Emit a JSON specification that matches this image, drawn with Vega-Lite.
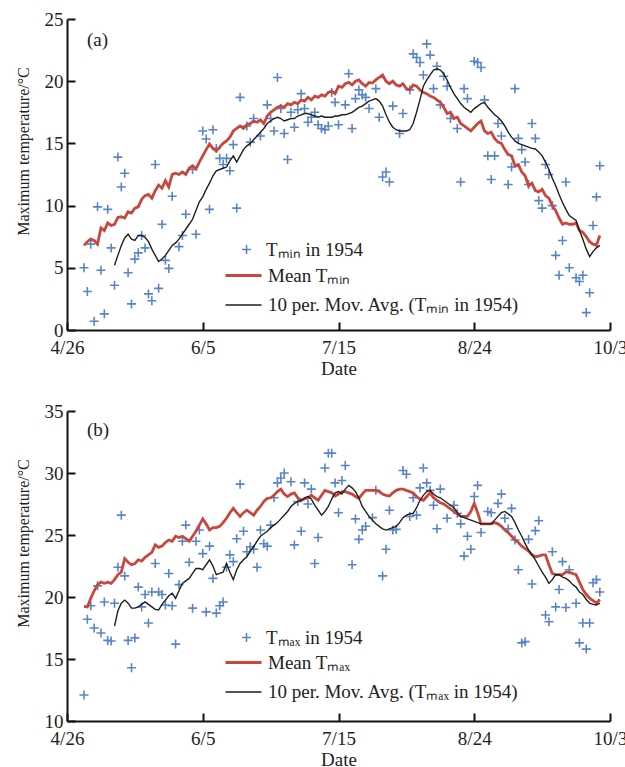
{
  "$schema": "https://vega.github.io/schema/vega-lite/v6.json",
  "padding": {"top": 10, "left": 15, "right": 5, "bottom": 5},
  "spacing": 24,
  "config": {
    "font": "Liberation Serif",
    "view": {"stroke": null},
    "axis": {"grid": false, "domainColor": "#111", "domainWidth": 2, "tickColor": "#111", "tickWidth": 2, "tickSize": -8, "labelFont": "Liberation Serif", "labelFontSize": 19, "labelColor": "#222", "titleFont": "Liberation Serif", "titleFontSize": 19, "titleFontWeight": "normal", "titleColor": "#222", "labelFlush": false, "labelOverlap": false},
    "legend": {"labelFont": "Liberation Serif", "labelFontSize": 19, "labelColor": "#222", "labelLimit": 500},
    "title": {"font": "Liberation Serif", "fontSize": 19, "fontWeight": "normal", "color": "#222"}
  },
  "resolve": {"scale": {"color": "independent", "shape": "independent", "strokeWidth": "independent"}, "legend": {"color": "independent", "shape": "independent", "strokeWidth": "independent"}},
  "datasets": {
    "t": [
      {"date":"1954-05-01","tmin":5.0,"tmean":6.8,"xmax":12.1,"xmean":19.25},
      {"date":"1954-05-02","tmin":3.1,"tmean":7.1,"xmax":18.2,"xmean":19.2},
      {"date":"1954-05-03","tmin":6.9,"tmean":7.3,"xmax":19.3,"xmean":19.9},
      {"date":"1954-05-04","tmin":0.7,"tmean":7.2,"xmax":17.5,"xmean":20.5},
      {"date":"1954-05-05","tmin":9.9,"tmean":6.9,"xmax":20.9,"xmean":21.0},
      {"date":"1954-05-06","tmin":4.8,"tmean":8.2,"xmax":17.1,"xmean":21.2},
      {"date":"1954-05-07","tmin":1.3,"tmean":8.0,"xmax":19.6,"xmean":21.1},
      {"date":"1954-05-08","tmin":9.7,"tmean":8.6,"xmax":16.5,"xmean":21.2},
      {"date":"1954-05-09","tmin":6.6,"tmean":8.4,"xmax":16.45,"xmean":21.1},
      {"date":"1954-05-10","tmin":3.6,"tmean":8.5,"tavg":5.2,"xmax":19.5,"xmean":21.4,"xavg":17.65},
      {"date":"1954-05-11","tmin":13.9,"tmean":9.05,"tavg":6.0,"xmax":22.4,"xmean":21.8,"xavg":18.9},
      {"date":"1954-05-12","tmin":11.5,"tmean":9.1,"tavg":6.8,"xmax":26.6,"xmean":22.0,"xavg":19.5},
      {"date":"1954-05-13","tmin":12.6,"tmean":9.0,"tavg":7.4,"xmax":21.7,"xmean":23.1,"xavg":19.75},
      {"date":"1954-05-14","tmin":4.6,"tmean":9.5,"tavg":7.7,"xmax":16.5,"xmean":22.8,"xavg":19.5},
      {"date":"1954-05-15","tmin":2.1,"tmean":9.4,"tavg":7.3,"xmax":14.3,"xmean":22.6,"xavg":19.1},
      {"date":"1954-05-16","tmin":5.7,"tmean":9.8,"tavg":7.2,"xmax":16.7,"xmean":22.7,"xavg":19.1},
      {"date":"1954-05-17","tmin":6.2,"tmean":9.9,"tavg":7.6,"xmax":20.8,"xmean":23.0,"xavg":19.2},
      {"date":"1954-05-18","tmin":7.6,"tmean":10.5,"tavg":7.6,"xmax":19.2,"xmean":22.9,"xavg":19.4},
      {"date":"1954-05-19","tmin":6.6,"tmean":10.8,"tavg":7.45,"xmax":20.2,"xmean":23.2,"xavg":19.6},
      {"date":"1954-05-20","tmin":2.9,"tmean":10.9,"tavg":7.1,"xmax":17.9,"xmean":23.4,"xavg":19.4},
      {"date":"1954-05-21","tmin":2.35,"tmean":10.6,"tavg":6.5,"xmax":20.4,"xmean":23.6,"xavg":19.2},
      {"date":"1954-05-22","tmin":13.3,"tmean":11.2,"tavg":6.0,"xmax":22.7,"xmean":24.2,"xavg":19.0},
      {"date":"1954-05-23","tmin":3.35,"tmean":11.65,"tavg":5.5,"xmax":20.4,"xmean":24.0,"xavg":18.95},
      {"date":"1954-05-24","tmin":8.5,"tmean":11.4,"tavg":5.7,"xmax":20.2,"xmean":24.1,"xavg":19.4},
      {"date":"1954-05-25","tmin":5.6,"tmean":12.0,"tavg":6.0,"xmax":19.35,"xmean":24.4,"xavg":19.75},
      {"date":"1954-05-26","tmin":4.95,"tmean":11.5,"tavg":6.4,"xmax":21.9,"xmean":24.6,"xavg":20.1},
      {"date":"1954-05-27","tmin":10.75,"tmean":12.5,"tavg":6.8,"xmax":19.3,"xmean":24.5,"xavg":20.3},
      {"date":"1954-05-28","tmean":12.6,"tavg":7.0,"xmax":16.2,"xmean":24.9,"xavg":19.9},
      {"date":"1954-05-29","tmin":6.7,"tmean":12.5,"tavg":7.3,"xmax":21.0,"xmean":24.8,"xavg":20.5},
      {"date":"1954-05-30","tmin":7.6,"tmean":12.7,"tavg":7.7,"xmax":24.5,"xmean":24.9,"xavg":21.1},
      {"date":"1954-05-31","tmin":9.3,"tmean":12.5,"tavg":8.1,"xmax":25.8,"xmean":24.7,"xavg":21.3},
      {"date":"1954-06-01","tmean":13.0,"tavg":8.5,"xmax":22.8,"xmean":24.5,"xavg":21.5},
      {"date":"1954-06-02","tmin":12.9,"tmean":13.2,"tavg":8.9,"xmax":19.1,"xmean":24.9,"xavg":21.9},
      {"date":"1954-06-03","tmin":7.7,"tmean":12.95,"tavg":9.6,"xmax":24.5,"xmean":25.3,"xavg":22.3},
      {"date":"1954-06-04","tmean":13.5,"tavg":10.3,"xmax":25.4,"xmean":25.8,"xavg":22.3},
      {"date":"1954-06-05","tmin":16.0,"tmean":14.0,"tavg":10.7,"xmax":23.5,"xmean":26.3,"xavg":22.2},
      {"date":"1954-06-06","tmin":15.35,"tmean":14.5,"tavg":11.3,"xmax":18.8,"xmean":25.9,"xavg":22.6},
      {"date":"1954-06-07","tmin":9.7,"tmean":14.95,"tavg":11.8,"xmax":24.1,"xmean":25.4,"xavg":23.0},
      {"date":"1954-06-08","tmin":16.1,"tmean":14.6,"tavg":12.4,"xmax":21.5,"xmean":25.6,"xavg":22.5},
      {"date":"1954-06-09","tmin":14.6,"tmean":14.4,"tavg":12.8,"xmax":18.7,"xmean":25.6,"xavg":21.8},
      {"date":"1954-06-10","tmin":13.8,"tmean":14.7,"tavg":12.9,"xmax":19.3,"xmean":25.7,"xavg":21.9},
      {"date":"1954-06-11","tmin":13.3,"tmean":15.0,"tavg":13.0,"xmax":19.6,"xmean":26.0,"xavg":22.0},
      {"date":"1954-06-12","tmin":13.8,"tmean":15.2,"tavg":13.1,"xmax":22.4,"xmean":26.35,"xavg":22.7},
      {"date":"1954-06-13","tmin":12.8,"tmean":15.5,"tavg":13.6,"xmax":23.4,"xmean":26.8,"xavg":22.0},
      {"date":"1954-06-14","tmin":14.9,"tmean":16.0,"tavg":14.0,"xmax":22.85,"xmean":27.15,"xavg":21.4},
      {"date":"1954-06-15","tmin":9.8,"tmean":16.2,"tavg":13.5,"xmax":24.7,"xmean":26.8,"xavg":22.2},
      {"date":"1954-06-16","tmin":18.7,"tmean":16.4,"tavg":14.0,"xmax":29.1,"xmean":26.5,"xavg":22.7},
      {"date":"1954-06-17","tmean":16.2,"tavg":14.5,"xmax":25.3,"xmean":26.8,"xavg":23.0},
      {"date":"1954-06-18","tmin":16.4,"tmean":16.5,"tavg":14.8,"xmax":23.65,"xmean":27.0,"xavg":23.25},
      {"date":"1954-06-19","tmin":15.1,"tmean":16.6,"tavg":15.0,"xmax":24.05,"xmean":26.8,"xavg":23.7},
      {"date":"1954-06-20","tmin":17.0,"tmean":16.8,"tavg":15.3,"xmax":23.85,"xmean":26.6,"xavg":24.05},
      {"date":"1954-06-21","tmean":16.7,"tavg":15.6,"xmax":22.4,"xmean":27.0,"xavg":24.5},
      {"date":"1954-06-22","tmin":15.6,"tmean":16.9,"tavg":15.9,"xmax":25.4,"xmean":27.3,"xavg":24.9},
      {"date":"1954-06-23","tmean":16.6,"tavg":16.2,"xmax":24.3,"xmean":27.7,"xavg":25.1},
      {"date":"1954-06-24","tmin":18.1,"tmean":17.2,"tavg":16.6,"xmax":24.1,"xmean":27.95,"xavg":25.3},
      {"date":"1954-06-25","tmin":17.0,"tmean":17.5,"tavg":16.8,"xmax":25.8,"xmean":28.0,"xavg":25.6},
      {"date":"1954-06-26","tmin":16.0,"tmean":17.7,"tavg":17.0,"xmax":28.0,"xmean":28.2,"xavg":25.8},
      {"date":"1954-06-27","tmin":20.3,"tmean":17.9,"tavg":17.1,"xmax":29.2,"xmean":28.5,"xavg":26.0},
      {"date":"1954-06-28","tmin":17.8,"tmean":18.0,"tavg":17.0,"xmax":29.6,"xmean":28.7,"xavg":26.3},
      {"date":"1954-06-29","tmin":15.8,"tmean":17.9,"tavg":16.8,"xmax":30.0,"xmean":28.3,"xavg":26.6},
      {"date":"1954-06-30","tmin":13.7,"tmean":18.2,"tavg":16.9,"xmean":28.1,"xavg":26.9},
      {"date":"1954-07-01","tmin":17.5,"tmean":18.1,"tavg":17.0,"xmax":29.3,"xmean":28.3,"xavg":27.3},
      {"date":"1954-07-02","tmin":16.3,"tmean":18.3,"tavg":17.0,"xmax":24.2,"xmean":28.4,"xavg":27.55},
      {"date":"1954-07-03","tmin":17.7,"tmean":18.2,"tavg":17.2,"xmax":27.7,"xmean":28.0,"xavg":27.7},
      {"date":"1954-07-04","tmin":19.0,"tmean":18.5,"tavg":17.3,"xmax":25.3,"xmean":27.8,"xavg":27.8},
      {"date":"1954-07-05","tmin":17.8,"tmean":18.4,"tavg":17.4,"xmax":29.2,"xmean":27.9,"xavg":28.0},
      {"date":"1954-07-06","tmin":16.7,"tmean":18.7,"tavg":17.4,"xmax":27.5,"xmean":28.0,"xavg":28.1},
      {"date":"1954-07-07","tmin":17.1,"tmean":18.5,"tavg":17.3,"xmax":28.7,"xmean":28.2,"xavg":27.9},
      {"date":"1954-07-08","tmin":17.5,"tmean":18.8,"tavg":17.2,"xmax":22.7,"xmean":28.0,"xavg":27.4},
      {"date":"1954-07-09","tmin":16.5,"tmean":18.7,"tavg":17.1,"xmax":24.8,"xmean":27.8,"xavg":27.0},
      {"date":"1954-07-10","tmin":16.2,"tmean":18.9,"tavg":17.2,"xmean":28.2,"xavg":26.6},
      {"date":"1954-07-11","tmin":16.1,"tmean":18.8,"tavg":17.1,"xmax":30.4,"xmean":28.6,"xavg":26.9},
      {"date":"1954-07-12","tmin":16.4,"tmean":19.1,"tavg":17.1,"xmax":31.6,"xmean":28.5,"xavg":27.3},
      {"date":"1954-07-13","tmin":19.1,"tmean":19.2,"tavg":17.1,"xmax":31.6,"xmean":28.4,"xavg":27.9},
      {"date":"1954-07-14","tmin":18.3,"tmean":19.0,"tavg":17.2,"xmax":29.2,"xmean":28.15,"xavg":28.4},
      {"date":"1954-07-15","tmin":16.5,"tmean":19.6,"tavg":17.2,"xmax":26.8,"xmean":28.3,"xavg":28.5},
      {"date":"1954-07-16","tmean":19.5,"tavg":17.3,"xmax":29.4,"xmean":28.5,"xavg":28.3},
      {"date":"1954-07-17","tmin":18.1,"tmean":19.8,"tavg":17.3,"xmax":30.6,"xmean":28.5,"xavg":28.7},
      {"date":"1954-07-18","tmin":20.6,"tmean":19.9,"tavg":17.4,"xmean":28.4,"xavg":29.0},
      {"date":"1954-07-19","tmin":16.2,"tmean":19.7,"tavg":17.5,"xmax":22.6,"xmean":28.3,"xavg":28.8},
      {"date":"1954-07-20","tmin":18.6,"tmean":20.0,"tavg":17.7,"xmax":26.3,"xmean":28.1,"xavg":28.5},
      {"date":"1954-07-21","tmin":19.3,"tmean":20.1,"tavg":17.9,"xmax":24.65,"xmean":27.95,"xavg":28.0},
      {"date":"1954-07-22","tmin":18.9,"tmean":19.8,"tavg":18.0,"xmax":25.4,"xmean":28.3,"xavg":27.3},
      {"date":"1954-07-23","tmin":18.7,"tmean":19.6,"tavg":18.2,"xmax":25.7,"xmean":28.6,"xavg":26.9},
      {"date":"1954-07-24","tmin":17.8,"tmean":19.9,"tavg":18.4,"xmean":28.6,"xavg":26.5},
      {"date":"1954-07-25","tmean":19.85,"tavg":18.5,"xmax":26.4,"xmean":28.6,"xavg":26.2},
      {"date":"1954-07-26","tmin":19.4,"tmean":20.1,"tavg":18.6,"xmax":28.6,"xmean":28.6,"xavg":25.9},
      {"date":"1954-07-27","tmin":17.1,"tmean":20.3,"tavg":18.4,"xmean":28.5,"xavg":25.7},
      {"date":"1954-07-28","tmin":12.3,"tmean":20.5,"tavg":18.0,"xmax":21.7,"xmean":28.3,"xavg":25.5},
      {"date":"1954-07-29","tmin":12.7,"tmean":20.0,"tavg":17.3,"xmax":23.85,"xmean":28.2,"xavg":25.4},
      {"date":"1954-07-30","tmin":11.9,"tmean":19.8,"tavg":16.7,"xmax":27.0,"xmean":28.15,"xavg":25.5},
      {"date":"1954-07-31","tmin":18.0,"tmean":20.0,"tavg":16.3,"xmax":25.4,"xmean":28.4,"xavg":25.6},
      {"date":"1954-08-01","tmean":19.7,"tavg":16.1,"xmax":25.45,"xmean":28.6,"xavg":25.7},
      {"date":"1954-08-02","tmin":15.8,"tmean":19.6,"tavg":16.0,"xmean":28.7,"xavg":26.0},
      {"date":"1954-08-03","tmin":17.4,"tmean":19.8,"tavg":16.0,"xmax":30.2,"xmean":28.7,"xavg":26.4},
      {"date":"1954-08-04","tmean":19.4,"tavg":16.0,"xmax":29.9,"xmean":28.6,"xavg":26.6},
      {"date":"1954-08-05","tmin":19.3,"tmean":19.3,"tavg":16.1,"xmax":26.5,"xmean":28.5,"xavg":26.7},
      {"date":"1954-08-06","tmin":22.2,"tmean":19.7,"tavg":16.6,"xmax":28.0,"xmean":28.4,"xavg":26.75},
      {"date":"1954-08-07","tmin":21.9,"tmean":19.6,"tavg":17.5,"xmax":26.6,"xmean":28.1,"xavg":27.2},
      {"date":"1954-08-08","tmin":21.5,"tmean":19.3,"tavg":18.5,"xmax":28.8,"xmean":27.9,"xavg":27.8},
      {"date":"1954-08-09","tmin":20.5,"tmean":19.1,"tavg":19.6,"xmax":30.4,"xmean":27.8,"xavg":28.2},
      {"date":"1954-08-10","tmin":23.0,"tmean":19.0,"tavg":20.1,"xmax":29.2,"xmean":28.1,"xavg":28.5},
      {"date":"1954-08-11","tmin":22.1,"tmean":18.8,"tavg":20.5,"xmax":28.6,"xmean":28.4,"xavg":28.6},
      {"date":"1954-08-12","tmin":19.4,"tmean":18.7,"tavg":20.9,"xmax":27.4,"xmean":28.0,"xavg":28.3},
      {"date":"1954-08-13","tmin":21.2,"tmean":18.5,"tavg":21.0,"xmax":25.5,"xmean":27.8,"xavg":28.1},
      {"date":"1954-08-14","tmin":18.1,"tmean":18.3,"tavg":20.9,"xmax":28.7,"xmean":27.6,"xavg":28.0},
      {"date":"1954-08-15","tmin":20.4,"tmean":17.9,"tavg":20.6,"xmean":27.5,"xavg":27.8},
      {"date":"1954-08-16","tmin":19.6,"tmean":17.4,"tavg":20.1,"xmax":26.35,"xmean":27.3,"xavg":27.6},
      {"date":"1954-08-17","tmin":17.0,"tmean":17.5,"tavg":19.5,"xmean":27.1,"xavg":27.4},
      {"date":"1954-08-18","tmean":17.0,"tavg":19.0,"xmax":27.4,"xmean":26.9,"xavg":27.2},
      {"date":"1954-08-19","tmin":16.2,"tmean":17.1,"tavg":18.6,"xmax":26.75,"xmean":26.7,"xavg":26.8},
      {"date":"1954-08-20","tmin":11.9,"tmean":16.6,"tavg":18.2,"xmax":25.9,"xmean":26.5,"xavg":26.5},
      {"date":"1954-08-21","tmin":19.4,"tmean":16.4,"tavg":17.9,"xmax":23.3,"xmean":26.5,"xavg":26.4},
      {"date":"1954-08-22","tmin":18.6,"tmean":16.2,"tavg":17.7,"xmax":24.9,"xmean":26.5,"xavg":26.3},
      {"date":"1954-08-23","tmean":16.0,"tavg":17.5,"xmax":23.85,"xmean":26.9,"xavg":26.2},
      {"date":"1954-08-24","tmin":21.6,"tmean":16.3,"tavg":17.8,"xmax":28.1,"xmean":27.55,"xavg":26.1},
      {"date":"1954-08-25","tmin":21.5,"tmean":16.6,"tavg":18.0,"xmax":29.0,"xmean":26.8,"xavg":26.0},
      {"date":"1954-08-26","tmin":21.1,"tmean":16.8,"tavg":18.2,"xmax":25.2,"xmean":25.9,"xavg":25.9},
      {"date":"1954-08-27","tmin":18.5,"tmean":16.0,"tavg":18.3,"xmean":25.9,"xavg":25.9},
      {"date":"1954-08-28","tmin":14.0,"tmean":15.8,"tavg":17.9,"xmax":26.9,"xmean":25.9,"xavg":25.9},
      {"date":"1954-08-29","tmin":12.1,"tmean":15.9,"tavg":17.6,"xmax":26.8,"xmean":25.9,"xavg":25.9},
      {"date":"1954-08-30","tmin":14.0,"tmean":15.4,"tavg":17.3,"xmean":26.0,"xavg":26.2},
      {"date":"1954-08-31","tmin":16.6,"tmean":15.1,"tavg":17.1,"xmax":27.55,"xmean":25.9,"xavg":26.5},
      {"date":"1954-09-01","tmin":15.6,"tmean":15.0,"tavg":16.8,"xmax":28.3,"xmean":25.7,"xavg":26.8},
      {"date":"1954-09-02","tmean":14.5,"tavg":16.4,"xmax":26.35,"xmean":25.4,"xavg":26.9},
      {"date":"1954-09-03","tmin":11.7,"tmean":14.1,"tavg":15.9,"xmax":25.5,"xmean":25.2,"xavg":26.7},
      {"date":"1954-09-04","tmin":13.1,"tmean":14.0,"tavg":15.5,"xmax":27.15,"xmean":24.9,"xavg":26.5},
      {"date":"1954-09-05","tmin":19.4,"tmean":13.2,"tavg":15.2,"xmax":24.6,"xmean":24.6,"xavg":26.0},
      {"date":"1954-09-06","tmin":15.4,"tmean":13.3,"tavg":15.0,"xmax":22.2,"xmean":24.4,"xavg":25.4},
      {"date":"1954-09-07","tmin":14.5,"tmean":12.7,"tavg":14.9,"xmax":16.3,"xmean":24.1,"xavg":24.9},
      {"date":"1954-09-08","tmin":13.5,"tmean":12.4,"tavg":14.8,"xmax":16.4,"xmean":23.9,"xavg":24.3},
      {"date":"1954-09-09","tmin":11.7,"tmean":11.6,"tavg":14.7,"xmax":24.65,"xmean":23.7,"xavg":23.8},
      {"date":"1954-09-10","tmin":16.6,"tmean":11.8,"tavg":14.6,"xmax":21.05,"xmean":23.4,"xavg":23.4},
      {"date":"1954-09-11","tmin":15.4,"tmean":11.2,"tavg":14.55,"xmax":25.35,"xmean":23.25,"xavg":23.0},
      {"date":"1954-09-12","tmin":10.4,"tmean":11.1,"tavg":14.3,"xmax":26.15,"xmean":23.3,"xavg":22.5},
      {"date":"1954-09-13","tmin":9.8,"tmean":11.3,"tavg":14.0,"xmean":23.4,"xavg":22.0},
      {"date":"1954-09-14","tmin":13.3,"tmean":10.8,"tavg":13.5,"xmax":18.55,"xmean":23.4,"xavg":21.6},
      {"date":"1954-09-15","tmin":12.5,"tmean":10.6,"tavg":12.9,"xmax":18.0,"xmean":22.6,"xavg":21.1},
      {"date":"1954-09-16","tmin":10.0,"tmean":10.0,"tavg":12.2,"xmax":23.65,"xmean":21.9,"xavg":21.4},
      {"date":"1954-09-17","tmin":6.0,"tmean":9.6,"tavg":11.6,"xmax":19.2,"xmean":21.8,"xavg":21.8},
      {"date":"1954-09-18","tmin":4.4,"tmean":9.0,"tavg":10.9,"xmax":20.6,"xmean":21.8,"xavg":21.8},
      {"date":"1954-09-19","tmin":7.2,"tmean":8.5,"tavg":10.25,"xmax":22.85,"xmean":21.8,"xavg":21.6},
      {"date":"1954-09-20","tmin":11.9,"tmean":8.6,"tavg":9.7,"xmax":19.15,"xmean":22.0,"xavg":21.5},
      {"date":"1954-09-21","tmin":5.0,"tmean":8.5,"tavg":9.2,"xmax":22.2,"xmean":22.0,"xavg":21.3},
      {"date":"1954-09-22","tmean":8.5,"tavg":9.0,"xmean":21.9,"xavg":21.0},
      {"date":"1954-09-23","tmin":4.2,"tmean":8.6,"tavg":8.8,"xmax":19.5,"xmean":21.8,"xavg":20.8},
      {"date":"1954-09-24","tmin":3.9,"tmean":8.0,"tavg":8.0,"xmax":16.3,"xmean":21.2,"xavg":20.4},
      {"date":"1954-09-25","tmin":4.4,"tmean":7.85,"tavg":7.3,"xmax":17.9,"xmean":20.6,"xavg":20.2},
      {"date":"1954-09-26","tmin":1.4,"tmean":7.5,"tavg":6.5,"xmax":15.8,"xmean":20.2,"xavg":19.8},
      {"date":"1954-09-27","tmin":3.0,"tmean":7.1,"tavg":5.9,"xmax":17.9,"xmean":19.9,"xavg":19.5},
      {"date":"1954-09-28","tmin":8.4,"tmean":6.9,"tavg":6.3,"xmax":21.15,"xmean":19.7,"xavg":19.4},
      {"date":"1954-09-29","tmin":10.7,"tmean":6.8,"tavg":6.6,"xmax":21.4,"xmean":19.5,"xavg":19.35},
      {"date":"1954-09-30","tmin":13.2,"tmean":7.6,"tavg":6.8,"xmax":20.4,"xmean":19.8,"xavg":19.5}
    ]
  },
  "vconcat": [
    {
      "width": 543,
      "height": 311,
      "title": {"text": "(a)", "anchor": "start", "frame": "group", "orient": "top", "offset": -40, "dx": 20},
      "data": {"name": "t"},
      "encoding": {
        "x": {"field": "date", "type": "temporal",
          "scale": {"type": "utc", "domain": [{"year": 1954, "month": 4, "date": 26, "utc": true}, {"year": 1954, "month": 10, "date": 3, "utc": true}]},
          "axis": {"title": "Date", "labelExpr": "utcFormat(datum.value, '%-m/%-d')", "labelPadding": 16, "titlePadding": 2,
            "values": [{"year": 1954, "month": 4, "date": 26, "utc": true}, {"year": 1954, "month": 6, "date": 5, "utc": true}, {"year": 1954, "month": 7, "date": 15, "utc": true}, {"year": 1954, "month": 8, "date": 24, "utc": true}, {"year": 1954, "month": 10, "date": 3, "utc": true}]}},
        "y": {"field": "value", "type": "quantitative", "scale": {"domain": [0, 25]},
          "axis": {"title": "Maximum temperature/°C", "titleFontSize": 16, "titleY": 132, "values": [0, 5, 10, 15, 20, 25], "labelPadding": 12, "titlePadding": 13}}
      },
      "layer": [
        {
          "transform": [{"fold": ["tmin"], "as": ["series", "value"]}, {"filter": "isValid(datum.value)"}],
          "mark": {"type": "point", "shape": "M-1,0L1,0M0,-1L0,1", "filled": false, "size": 81, "strokeWidth": 1.6, "opacity": 1, "color": "#5a84c8"},
          "encoding": {
            "shape": {"field": "series", "type": "nominal",
              "scale": {"domain": ["tmin"], "range": ["M-1,0L1,0M0,-1L0,1"]},
              "legend": {"title": null, "orient": "none", "legendX": 170, "legendY": 221, "labelOffset": 10, "symbolSize": 81, "symbolStrokeWidth": 1.6, "symbolStrokeColor": "#5a84c8", "symbolFillColor": "transparent",
                "labelExpr": "'Tₘᵢₙ in 1954'"}}
          }
        },
        {
          "transform": [{"fold": ["tmean", "tavg"], "as": ["series", "value"]}, {"filter": "isValid(datum.value)"}],
          "mark": {"type": "line"},
          "encoding": {
            "color": {"field": "series", "type": "nominal",
              "scale": {"domain": ["tmean", "tavg"], "range": ["#c8463c", "#1e1e1e"]},
              "legend": {"title": null, "orient": "none", "legendX": 157, "legendY": 237, "labelOffset": 5, "rowPadding": -4, "symbolType": "stroke", "symbolSize": 1296,
                "labelExpr": "datum.value === 'tmean' ? 'Mean Tₘᵢₙ' : '10 per. Mov. Avg. (Tₘᵢₙ in 1954)'"}},
            "strokeWidth": {"field": "series", "type": "nominal",
              "scale": {"domain": ["tmean", "tavg"], "range": [2.8, 1.4]},
              "legend": {"title": null, "orient": "none", "legendX": 157, "legendY": 237, "labelOffset": 5, "rowPadding": -4, "symbolType": "stroke", "symbolSize": 1296,
                "labelExpr": "datum.value === 'tmean' ? 'Mean Tₘᵢₙ' : '10 per. Mov. Avg. (Tₘᵢₙ in 1954)'"}}
          }
        }
      ]
    },
    {
      "width": 543,
      "height": 310,
      "title": {"text": "(b)", "anchor": "start", "frame": "group", "orient": "top", "offset": -38, "dx": 20},
      "data": {"name": "t"},
      "encoding": {
        "x": {"field": "date", "type": "temporal",
          "scale": {"type": "utc", "domain": [{"year": 1954, "month": 4, "date": 26, "utc": true}, {"year": 1954, "month": 10, "date": 3, "utc": true}]},
          "axis": {"title": "Date", "labelExpr": "utcFormat(datum.value, '%-m/%-d')", "labelPadding": 16, "titlePadding": 2,
            "values": [{"year": 1954, "month": 4, "date": 26, "utc": true}, {"year": 1954, "month": 6, "date": 5, "utc": true}, {"year": 1954, "month": 7, "date": 15, "utc": true}, {"year": 1954, "month": 8, "date": 24, "utc": true}, {"year": 1954, "month": 10, "date": 3, "utc": true}]}},
        "y": {"field": "value", "type": "quantitative", "scale": {"domain": [10, 35]},
          "axis": {"title": "Maximum temperature/°C", "titleFontSize": 16, "titleY": 132, "values": [10, 15, 20, 25, 30, 35], "labelPadding": 12, "titlePadding": 13}}
      },
      "layer": [
        {
          "transform": [{"fold": ["xmax"], "as": ["series", "value"]}, {"filter": "isValid(datum.value)"}],
          "mark": {"type": "point", "shape": "M-1,0L1,0M0,-1L0,1", "filled": false, "size": 81, "strokeWidth": 1.6, "opacity": 1, "color": "#5a84c8"},
          "encoding": {
            "shape": {"field": "series", "type": "nominal",
              "scale": {"domain": ["xmax"], "range": ["M-1,0L1,0M0,-1L0,1"]},
              "legend": {"title": null, "orient": "none", "legendX": 170, "legendY": 217, "labelOffset": 10, "symbolSize": 81, "symbolStrokeWidth": 1.6, "symbolStrokeColor": "#5a84c8", "symbolFillColor": "transparent",
                "labelExpr": "'Tₘₐₓ in 1954'"}}
          }
        },
        {
          "transform": [{"fold": ["xmean", "xavg"], "as": ["series", "value"]}, {"filter": "isValid(datum.value)"}],
          "mark": {"type": "line"},
          "encoding": {
            "color": {"field": "series", "type": "nominal",
              "scale": {"domain": ["xmean", "xavg"], "range": ["#c8463c", "#1e1e1e"]},
              "legend": {"title": null, "orient": "none", "legendX": 157, "legendY": 232, "labelOffset": 5, "rowPadding": -11, "symbolType": "stroke", "symbolSize": 1296,
                "labelExpr": "datum.value === 'xmean' ? 'Mean Tₘₐₓ' : '10 per. Mov. Avg. (Tₘₐₓ in 1954)'"}},
            "strokeWidth": {"field": "series", "type": "nominal",
              "scale": {"domain": ["xmean", "xavg"], "range": [2.8, 1.4]},
              "legend": {"title": null, "orient": "none", "legendX": 157, "legendY": 232, "labelOffset": 5, "rowPadding": -11, "symbolType": "stroke", "symbolSize": 1296,
                "labelExpr": "datum.value === 'xmean' ? 'Mean Tₘₐₓ' : '10 per. Mov. Avg. (Tₘₐₓ in 1954)'"}}
          }
        }
      ]
    }
  ]
}
